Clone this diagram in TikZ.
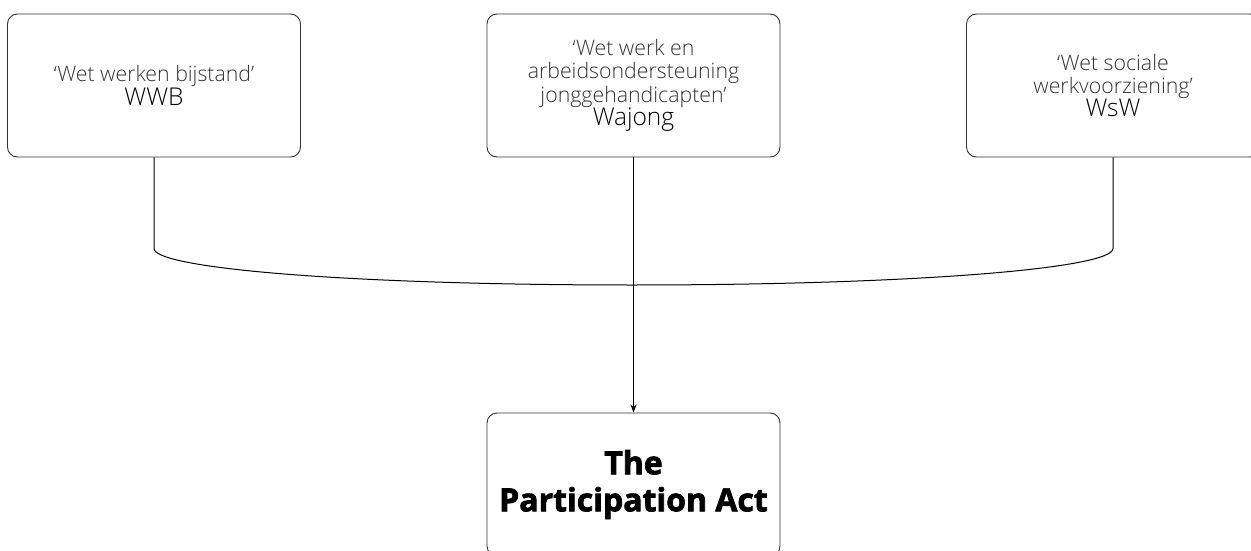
\documentclass[tikz,border=0pt]{standalone}
\usepackage{fontspec}
\setmainfont{Open Sans}
\newfontfamily\lightfont{Open Sans Light}
\newfontfamily\heavyfont{Open Sans}[BoldFeatures={FakeBold=2.2}]
\usetikzlibrary{arrows.meta}
\definecolor{boxline}{HTML}{333333}
\definecolor{quotetext}{HTML}{333333}
\tikzset{
  lawbox/.style={draw=boxline, line width=0.9pt, rounded corners=10pt,
    minimum width=293pt, minimum height=143pt, align=center, inner sep=0pt},
  quoted/.style={font=\lightfont\fontsize{21.3}{23.4}\selectfont, text=quotetext},
  link/.style={draw=black, line width=1pt},
}
\newcommand{\acro}[1]{{\fontsize{24.5}{28}\selectfont\color{black}#1}}
\begin{document}
\begin{tikzpicture}[x=1pt, y=-1pt]
  \useasboundingbox (0,0) rectangle (1251,551);
  \clip (0,0) rectangle (1251,551);

  % the three schemes
  \node[lawbox, quoted] (wwb) at (154,85.5)
    {‘Wet werken bijstand’\\\acro{WWB}};
  \node[lawbox, quoted] (wajong) at (633.5,85.5)
    {‘Wet werk en\\arbeidsondersteuning\\jonggehandicapten’\\\acro{Wajong}};
  \node[lawbox, quoted] (wsw) at (1113,85.5)
    {‘Wet sociale\\werkvoorziening’\\\acro{WsW}};

  % the merged act
  \node[lawbox, font=\heavyfont\bfseries\fontsize{32}{37}\selectfont] (act) at (633.5,484.5)
    {The\\Participation Act};

  % joining bracket and arrow
  \coordinate (join) at (632,285);
  \draw[link] (wwb.south) -- ++(0,91) .. controls +(0,20) and (350,285) .. (join);
  \draw[link] (wsw.south) -- ++(0,91) .. controls +(0,20) and (914,285) .. (join);
  \draw[link, -{Stealth[length=8pt, width=6pt]}] (wajong.south) -- (act.north);
\end{tikzpicture}
\end{document}
